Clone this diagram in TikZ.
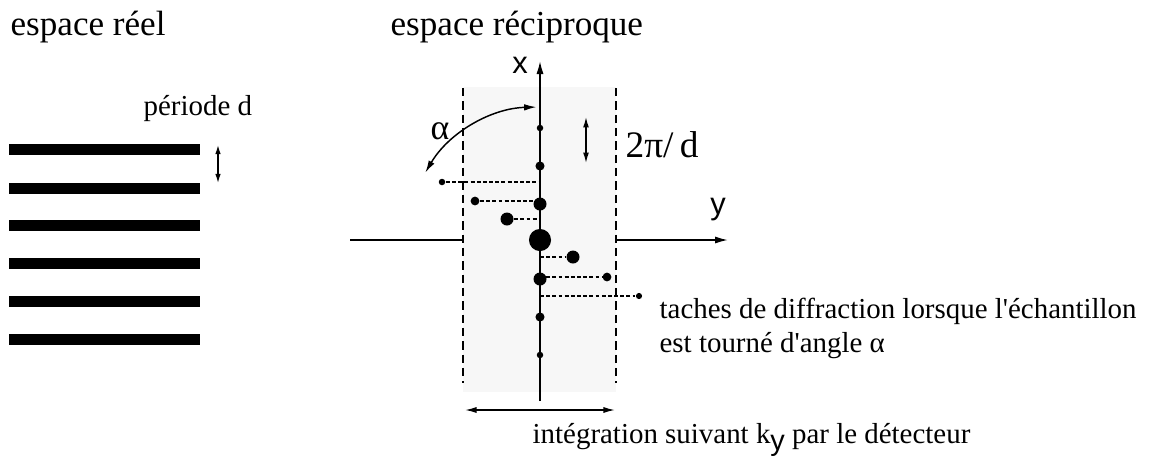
\documentclass[tikz,border=0pt]{standalone}
\usepackage{fontspec}
\setmainfont{Liberation Serif}
\setsansfont{Liberation Sans}
\usetikzlibrary{arrows.meta}
\begin{document}
\begin{tikzpicture}[x=0.3077pt,y=-0.3077pt,
  >={Latex[length=3.4pt,width=1.9pt]},
  bigtxt/.style={inner sep=0pt,anchor=base west,font=\fontsize{10.8}{13}\selectfont},
  smalltxt/.style={inner sep=0pt,anchor=base west,font=\fontsize{8.9}{10.46}\selectfont},
  axlbl/.style={inner sep=0pt,font=\sffamily\fontsize{9.5}{11}\selectfont},
  bar/.style={fill=black,draw=none},
  axisline/.style={line width=0.5pt},
  dashv/.style={line width=0.4pt,dash pattern=on 2.6pt off 1.5pt},
  dashh/.style={line width=0.35pt,dash pattern=on 1.2pt off 0.7pt},
  dot/.style={circle,fill=black,draw=none,inner sep=0pt,minimum size=#1}]
\useasboundingbox (0,0) rectangle (1152,461);

% titles
\node[bigtxt] (treel) at (10,35) {espace réel};
\node[bigtxt] (trecip) at (390,35) {espace réciproque};

% real space bars
\foreach \yc in {149.5,188,225.5,263.5,301,339}{
  \fill[bar] (9,\yc-5.5) rectangle (200,\yc+5.5);
}
\node[smalltxt] (periode) at (143,115) {période d};
\coordinate (pA) at (218,145);
\coordinate (pB) at (218,183);
\draw[line width=0.4pt,<->,>={Latex[length=2.8pt,width=1.7pt]}] (pA) -- (pB);

% reciprocal space: shaded band
\fill[black!3] (463,87) rectangle (616,392);
\coordinate (dl1) at (463,88);
\coordinate (dl2) at (463,383);
\coordinate (dr1) at (616,88);
\coordinate (dr2) at (616,383);
\draw[dashv] (dl1) -- (dl2);
\draw[dashv] (dr1) -- (dr2);

% axes
\coordinate (O) at (540,240);
\coordinate (xbot) at (540,401);
\coordinate (xtop) at (540,61);
\draw[axisline,->,>={Latex[length=4pt,width=2.2pt]}] (xbot) -- (xtop);
\coordinate (hl1) at (350,240);
\coordinate (hl2) at (463,240);
\coordinate (hr1) at (616,240);
\coordinate (hr2) at (728,240);
\draw[axisline] (hl1) -- (hl2);
\draw[axisline,->,>={Latex[length=4pt,width=2.2pt]}] (hr1) -- (hr2);
\node[axlbl] (xlab) at (520,65) {x};
\node[axlbl] (ylab) at (718,210) {y};

% spots on axis
\node[dot=2.0pt] (s1) at (540,128) {};
\node[dot=2.8pt] (s2) at (540,166) {};
\node[dot=4.0pt] (s3) at (540,204) {};
\node[dot=6.8pt] (s0) at (540,240) {};
\node[dot=4.0pt] (s4) at (540,279) {};
\node[dot=2.8pt] (s5) at (540,317) {};
\node[dot=2.0pt] (s6) at (540,355) {};

% rotated spots
\node[dot=2.0pt] (r1) at (442,182) {};
\node[dot=2.7pt] (r2) at (475,201) {};
\node[dot=4.0pt] (r3) at (507,219) {};
\node[dot=4.0pt] (r4) at (573,257) {};
\node[dot=2.7pt] (r5) at (607,277) {};
\node[dot=1.9pt] (r6) at (639,296) {};
\coordinate (a1) at (540,182);
\coordinate (a2) at (540,201);
\coordinate (a3) at (540,219);
\coordinate (a4) at (540,257);
\coordinate (a5) at (540,277);
\coordinate (a6) at (540,296);
\draw[dashh] (r1) -- (a1);
\draw[dashh] (r2) -- (a2);
\draw[dashh] (r3) -- (a3);
\draw[dashh] (a4) -- (r4);
\draw[dashh] (a5) -- (r5);
\draw[dashh] (a6) -- (r6);

% alpha arc
\draw[line width=0.45pt,<->,>={Latex[length=3.8pt,width=2pt]}]
  ([shift={(-91.5:133)}]O) arc[start angle=-91.5,end angle=-149.6,radius=133];
\node[inner sep=0pt,font=\fontsize{11}{13}\selectfont] (alab) at (440,131) {α};

% 2pi/d
\coordinate (qA) at (586,117);
\coordinate (qB) at (586,163);
\draw[line width=0.4pt,<->,>={Latex[length=3.2pt,width=1.8pt]}] (qA) -- (qB);
\node[bigtxt,font=\fontsize{11.5}{13}\selectfont] (qlab) at (625,157) {2π/\,d};

% spots explanation
\node[smalltxt,align=left] (taches) at (659,352) {taches de diffraction lorsque l\textquotesingle échantillon\\est tourné d\textquotesingle angle α};

% integration
\coordinate (iA) at (465,410);
\coordinate (iB) at (615,410);
\draw[line width=0.45pt,<->,>={Latex[length=3.6pt,width=1.9pt]}] (iA) -- (iB);
\node[smalltxt] (integ) at (532,443) {intégration suivant k\raisebox{-0.55ex}{\sffamily y} par le détecteur};
\end{tikzpicture}
\end{document}
